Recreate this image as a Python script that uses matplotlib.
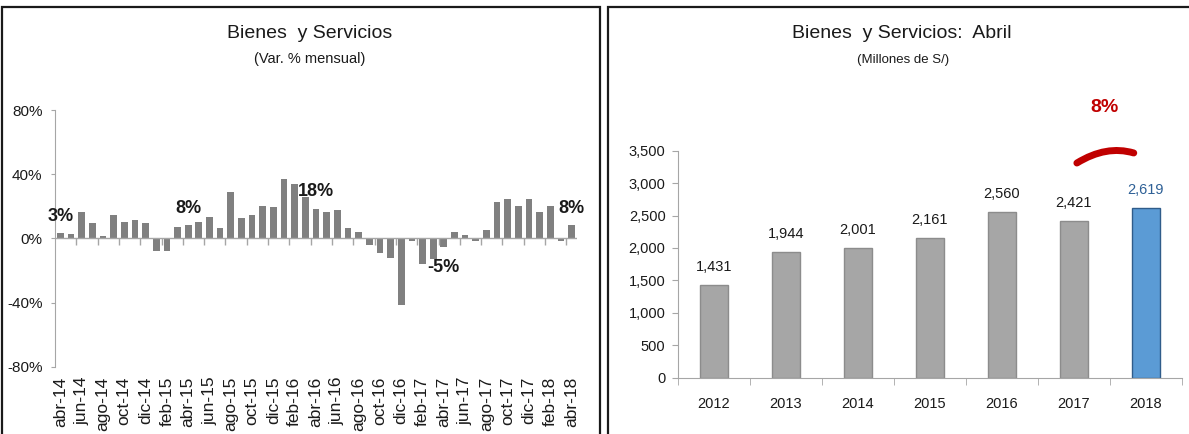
import numpy as np
import matplotlib
matplotlib.use("Agg")
import matplotlib.pyplot as plt
from matplotlib.patches import Rectangle
from matplotlib.path import Path
from matplotlib.patches import PathPatch

plt.rcParams['font.family'] = ['Liberation Sans Narrow', 'Liberation Sans', 'DejaVu Sans']

# ---------------- data ----------------
month_labels = ["abr-14", "jun-14", "ago-14", "oct-14", "dic-14", "feb-15", "abr-15",
                "jun-15", "ago-15", "oct-15", "dic-15", "feb-16", "abr-16", "jun-16",
                "ago-16", "oct-16", "dic-16", "feb-17", "abr-17", "jun-17", "ago-17",
                "oct-17", "dic-17", "feb-18", "abr-18"]
monthly_var = [3.2, 3.1, 16.5, 9.4, 1.3, 14.4, 10.5, 11.5, 9.4, -7.7, -7.7, 7.3,
               8.2, 10.5, 13.4, 6.3, 28.9, 12.6, 14.4, 20.5, 19.5, 37.0, 33.9, 25.7,
               18.4, 16.5, 17.6, 6.3, 4.2, -3.8, -8.8, -11.9, -41.6, -1.7, -15.9, -13.0,
               -5.4, 4.2, 2.1, -1.7, 5.2, 22.6, 24.7, 20.5, 24.7, 16.5, 20.5, -1.7, 8.2]
labeled_months = [0, 12, 24, 36, 48]

years = ["2012", "2013", "2014", "2015", "2016", "2017", "2018"]
april_values = [1431, 1944, 2001, 2161, 2560, 2421, 2619]
growth_label = "8%"

W, H = 1189, 434
fig = plt.figure(figsize=(W / 100, H / 100), dpi=100)

def fx(px):
    return px / W

def fy(py):
    return 1 - py / H

# panel frames
fig.patches.append(Rectangle((fx(2), fy(440)), fx(598), fy(7) - fy(440), transform=fig.transFigure,
                             fill=False, edgecolor='#1a1a1a', lw=1.6))
fig.patches.append(Rectangle((fx(608), fy(440)), fx(600), fy(7) - fy(440), transform=fig.transFigure,
                             fill=False, edgecolor='#1a1a1a', lw=1.6))

axis_col = '#A6A6A6'
txt_col = '#1a1a1a'

# ---------------- left chart ----------------
ax1 = fig.add_axes([fx(55), fy(367), fx(577) - fx(55), fy(110) - fy(367)])
n = len(monthly_var)
x = np.arange(n)
ax1.bar(x, monthly_var, width=0.63, color='#808080', zorder=2)
ax1.set_xlim(-0.5, n - 0.5)
ax1.set_ylim(-80, 80)
ax1.set_yticks([-80, -40, 0, 40, 80])
ax1.set_yticklabels(["-80%", "-40%", "0%", "40%", "80%"], fontsize=11, color=txt_col)
ax1.tick_params(axis='y', length=3, color=axis_col, pad=6)
ax1.set_xticks(x[::2])
ax1.set_xticklabels(month_labels, rotation=90, fontsize=12.5, color=txt_col)
ax1.tick_params(axis='x', length=0, pad=7)
for s in ['top', 'right', 'bottom']:
    ax1.spines[s].set_visible(False)
ax1.spines['left'].set_color(axis_col)
ax1.axhline(0, color=axis_col, lw=1, zorder=3)
ax1.vlines(np.arange(1.5, n - 1, 2), -3.8, 0, color=axis_col, lw=1, zorder=3)
for i in labeled_months:
    v = monthly_var[i]
    off = 17 if v >= 0 else -20
    ax1.annotate(f"{round(v):d}%", (x[i], v), xytext=(0, off), textcoords='offset pixels',
                 ha='center', va='center', fontsize=13, fontweight='bold', color=txt_col)
fig.text(fx(310), fy(33), "Bienes  y Servicios", ha='center', va='center', fontsize=14, color=txt_col)
fig.text(fx(310), fy(59), "(Var. % mensual)", ha='center', va='center', fontsize=10.5, color=txt_col)

# ---------------- right chart ----------------
ax2 = fig.add_axes([fx(678), fy(377.7), fx(1182) - fx(678), fy(150.7) - fy(377.7)])
xr = np.arange(len(years))
colors = ['#A6A6A6'] * (len(years) - 1) + ['#5B9BD5']
edges = ['#8C8C8C'] * (len(years) - 1) + ['#2F5C8A']
ax2.bar(xr, april_values, width=0.39, color=colors, edgecolor=edges, lw=1, zorder=2)
ax2.set_xlim(-0.5, len(years) - 0.5)
ax2.set_ylim(0, 3500)
ax2.set_yticks(np.arange(0, 3501, 500))
ax2.set_yticklabels([f"{v:,}" for v in range(0, 3501, 500)], fontsize=10.5, color=txt_col)
ax2.tick_params(axis='y', length=4, color=axis_col, pad=5)
ax2.set_xticks(xr)
ax2.set_xticklabels(years, fontsize=10.5, color=txt_col)
ax2.tick_params(axis='x', which='major', length=0, pad=14)
ax2.set_xticks(np.arange(-0.5, len(years), 1), minor=True)
ax2.tick_params(axis='x', which='minor', length=5, color=axis_col)
for s in ['top', 'right']:
    ax2.spines[s].set_visible(False)
ax2.spines['left'].set_color(axis_col)
ax2.spines['bottom'].set_color(axis_col)
for i, v in enumerate(april_values):
    c = '#2E6096' if i == len(years) - 1 else txt_col
    ax2.annotate(f"{v:,}", (xr[i], v), xytext=(0, 18), textcoords='offset pixels',
                 ha='center', va='center', fontsize=10.5, color=c)

# growth arc
p0 = (5.04, 3310)
p1 = (5.45, 3590)
p2 = (5.83, 3465)
arc = Path([p0, p1, p2], [Path.MOVETO, Path.CURVE3, Path.CURVE3])
ax2.add_patch(PathPatch(arc, fill=False, edgecolor='#C00000', lw=5, capstyle='round', clip_on=False, zorder=4))
ax2.text(5.43, 4160, growth_label, ha='center', va='center', fontsize=14, fontweight='bold',
         color='#C00000', clip_on=False)

fig.text(fx(902), fy(34), "Bienes  y Servicios:  Abril", ha='center', va='center', fontsize=14, color=txt_col)
fig.text(fx(903), fy(60), "(Millones de S/)", ha='center', va='center', fontsize=9.5, color=txt_col)

fig.savefig("out.png", dpi=100)
